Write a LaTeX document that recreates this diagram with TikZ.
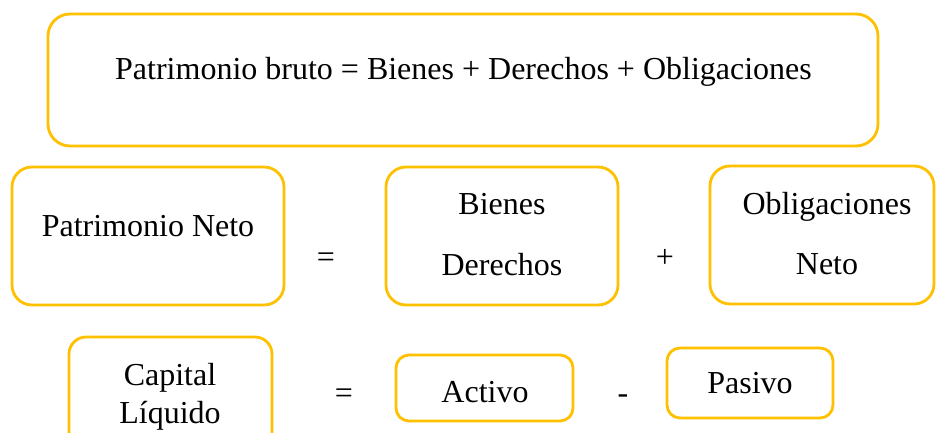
\documentclass[tikz,border=0pt]{standalone}
\usepackage{fontspec}
\setmainfont{Liberation Serif}
\definecolor{gold}{HTML}{FFC000}
\begin{document}
\begin{tikzpicture}[x=1pt,y=-1pt,
  box/.style={draw=gold,line width=2.8pt,fill=white,inner sep=0pt},
  txt/.style={anchor=base,inner sep=0pt,font=\fontsize{32}{38}\selectfont}]
\useasboundingbox (0,0) rectangle (936,433);
\clip (0,0) rectangle (936,433);
% row 1
\node[box,rounded corners=22pt,minimum width=830pt,minimum height=132pt] (top) at (463,80) {};
\node[txt] (toptxt) at (463.5,80) {Patrimonio bruto = Bienes + Derechos + Obligaciones};
% row 2
\node[box,rounded corners=20pt,minimum width=272pt,minimum height=138pt] (pn) at (148,236) {};
\node[txt] (pntxt) at (148,236) {Patrimonio Neto};
\node[txt] (eq1) at (326,267) {=};
\node[box,rounded corners=20pt,minimum width=232pt,minimum height=138pt] (bd) at (502,236) {};
\node[txt] (bien) at (502,214) {Bienes};
\node[txt] (dere) at (502,275) {Derechos};
\node[txt] (plus) at (665,267) {+};
\node[box,rounded corners=20pt,minimum width=224pt,minimum height=138pt] (on) at (822,235) {};
\node[txt] (obl) at (827,214) {Obligaciones};
\node[txt] (neto) at (827,274) {Neto};
% row 3
\node[box,rounded corners=17pt,minimum width=203pt,minimum height=130pt] (cl) at (170.5,402) {};
\node[txt] (cap) at (170,385) {Capital};
\node[txt] (liq) at (170,423) {Líquido};
\node[txt] (eq2) at (344,403) {=};
\node[box,rounded corners=13pt,minimum width=177pt,minimum height=66pt] (act) at (484.5,388) {};
\node[txt] (acttxt) at (485,402) {Activo};
\node[txt] (minus) at (623,403) {-};
\node[box,rounded corners=13pt,minimum width=166pt,minimum height=70pt] (pas) at (750,383) {};
\node[txt] (pastxt) at (750,393) {Pasivo};
\end{tikzpicture}
\end{document}
